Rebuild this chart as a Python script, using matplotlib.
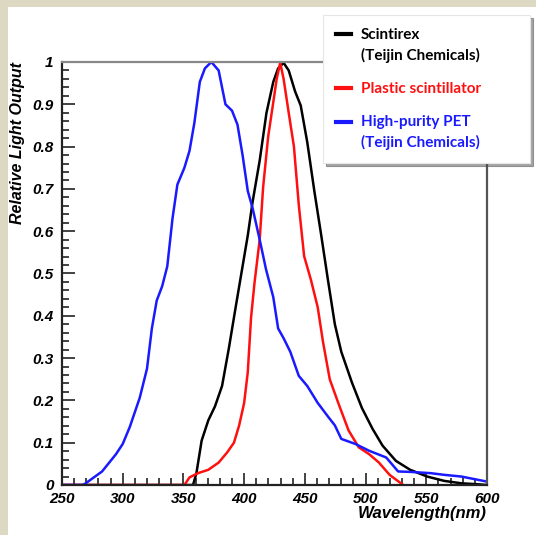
import matplotlib
matplotlib.use("Agg")
import matplotlib.pyplot as plt
from matplotlib.patches import Rectangle
from matplotlib.ticker import MultipleLocator, FuncFormatter

# spectra (wavelength in nm, relative light output)
pet_nm = [250, 267, 269, 283, 294.5, 300, 305.8, 314, 320, 324, 328, 332.5, 336.7,
          341, 345, 350.8, 355, 359, 363.5, 367.7, 373, 379, 384.6, 390, 394.5,
          398.7, 403, 407, 412.8, 418, 424, 428, 432.5, 438, 445, 452, 460.6, 469,
          474.7, 480, 491.6, 502.9, 517, 526.8, 536.7, 553.6, 564.8, 578.9, 593, 600]
pet_out = [0, 0, 0.003, 0.032, 0.073, 0.097, 0.137, 0.206, 0.275, 0.37, 0.436, 0.47,
           0.517, 0.63, 0.71, 0.75, 0.79, 0.856, 0.953, 0.985, 1.0, 0.98, 0.90, 0.885,
           0.852, 0.78, 0.695, 0.654, 0.58, 0.51, 0.444, 0.37, 0.347, 0.315, 0.258,
           0.234, 0.194, 0.162, 0.141, 0.109, 0.097, 0.081, 0.065, 0.032, 0.031,
           0.028, 0.024, 0.020, 0.012, 0.008]

scx_nm = [250, 357.9, 360.7, 365, 370.5, 376, 381.8, 387.4, 393, 398.7, 403, 407,
          412.8, 418.4, 424, 428, 432.5, 436.7, 442, 446.6, 452, 457.8, 463.5, 469,
          474.7, 480, 488.8, 497, 505.7, 514, 525, 536.7, 550.7, 564.8, 579, 593, 600]
scx_out = [0, 0, 0.028, 0.105, 0.153, 0.186, 0.234, 0.323, 0.42, 0.517, 0.59, 0.67,
           0.767, 0.88, 0.953, 0.985, 0.998, 0.98, 0.93, 0.897, 0.81, 0.695, 0.59,
           0.485, 0.38, 0.315, 0.242, 0.182, 0.133, 0.093, 0.057, 0.036, 0.020,
           0.0097, 0.004, 0.0016, 0]

pls_nm = [250, 350.8, 355, 362, 370.5, 379, 386, 391.6, 395.9, 400, 403, 405.7,
          408.5, 412.8, 415.6, 419.8, 424, 426.8, 429.7, 432.5, 436.7, 441, 445,
          449.4, 455, 460.6, 464.9, 470.5, 477.5, 486, 494.4, 502.9, 511, 519.8, 531]
pls_out = [0, 0, 0.018, 0.028, 0.036, 0.053, 0.077, 0.10, 0.141, 0.194, 0.267, 0.396,
           0.477, 0.58, 0.703, 0.824, 0.905, 0.96, 0.998, 0.96, 0.88, 0.80, 0.662,
           0.541, 0.485, 0.42, 0.339, 0.25, 0.194, 0.129, 0.089, 0.073, 0.053, 0.024, 0]

labels = ["Scintirex\n(Teijin Chemicals)", "Plastic scintillator",
          "High-purity PET\n(Teijin Chemicals)"]

fig = plt.figure(figsize=(5.36, 5.35), dpi=100, facecolor="#ddd8c2")
fig.patches.append(Rectangle((8 / 536, 0), 1, 1 - 7 / 535, transform=fig.transFigure,
                             facecolor="white", edgecolor="none", zorder=-10))

ax = fig.add_axes([62 / 536, 50 / 535, 425 / 536, 423 / 535])
ax.set_facecolor("none")

l1, = ax.plot(scx_nm, scx_out, color="black", lw=1.8)
l2, = ax.plot(pls_nm, pls_out, color="#ff1010", lw=1.8)
l3, = ax.plot(pet_nm, pet_out, color="#1a1aff", lw=1.8)

ax.set_xlim(250, 600)
ax.set_ylim(0, 1)

for side, c in [("left", "#222222"), ("bottom", "#222222"), ("top", "#888888"), ("right", "#555555")]:
    ax.spines[side].set_color(c)
    ax.spines[side].set_linewidth(1.6)

ax.xaxis.set_major_locator(MultipleLocator(50))
ax.xaxis.set_minor_locator(MultipleLocator(10))
ax.yaxis.set_major_locator(MultipleLocator(0.1))
ax.yaxis.set_minor_locator(MultipleLocator(0.02))
ax.yaxis.set_major_formatter(FuncFormatter(lambda v, p: "%g" % round(v, 1)))
ax.tick_params(which="both", direction="in", color="#222222", width=1.2)
ax.tick_params(which="major", length=9)
ax.tick_params(which="minor", length=5)
ax.tick_params(top=False, right=False)
ax.tick_params(axis="x", pad=5)
ax.tick_params(axis="y", pad=6)
tick_font = dict(family="Liberation Sans", weight="bold", style="italic", size=11)
for t in ax.get_xticklabels() + ax.get_yticklabels():
    t.set_fontproperties(matplotlib.font_manager.FontProperties(**tick_font))

ax.set_xlabel("Wavelength(nm)", family="Liberation Sans", weight="bold",
              style="italic", size=12)
ax.xaxis.set_label_coords(1.0, -0.05)
ax.xaxis.label.set_horizontalalignment("right")
ax.set_ylabel("Relative Light Output", family="Liberation Sans", weight="bold",
              style="italic", size=11.5)
ax.yaxis.set_label_coords(-0.088, 1.0)
ax.yaxis.label.set_horizontalalignment("right")

leg_fs = 11
leg = fig.legend([l1, l2, l3], labels, loc="upper left",
                 bbox_to_anchor=(323 / 536, 372 / 535, 207 / 536, 148 / 535),
                 mode="expand", frameon=True, shadow=True,
                 fancybox=False, labelcolor="linecolor",
                 prop=dict(family="Lato", weight="bold", size=leg_fs),
                 handlelength=1.0, handletextpad=0.65, labelspacing=1.25,
                 borderpad=0.85, borderaxespad=0)
leg.get_frame().set_edgecolor("#e6e6e6")
leg.get_frame().set_linewidth(0.8)
for t in leg.get_texts():
    t.set_linespacing(1.5)
# put the handle on the first line of a two-line label
for h, lab in zip(leg.legend_handles, labels):
    h.set_linewidth(3)
    if "\n" in lab:
        y = h.get_ydata()
        h.set_ydata([v + 0.75 * leg_fs for v in y])

fig.savefig("out.png", dpi=100, facecolor=fig.get_facecolor())
